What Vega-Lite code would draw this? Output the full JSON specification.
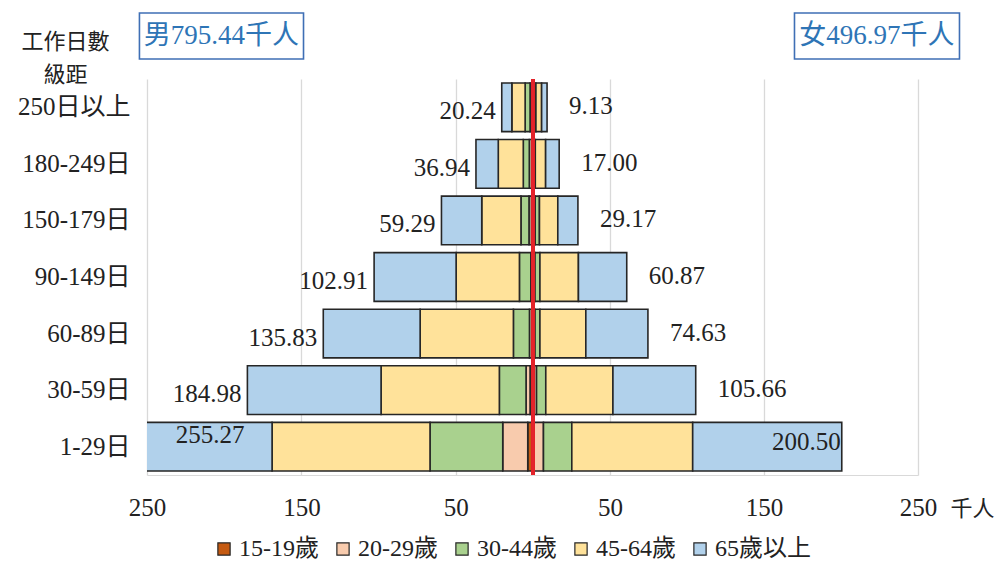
{
  "$schema": "https://vega.github.io/schema/vega-lite/v6.json",
  "background": "white",
  "padding": {"left": 17, "top": 12, "right": 5, "bottom": 5},
  "datasets": {
    "segs": [
      {"row": "250日以上", "sex": "男", "age": "15-19歲", "value": 0.7},
      {"row": "250日以上", "sex": "男", "age": "20-29歲", "value": 1.2},
      {"row": "250日以上", "sex": "男", "age": "30-44歲", "value": 3.2},
      {"row": "250日以上", "sex": "男", "age": "45-64歲", "value": 8.6},
      {"row": "250日以上", "sex": "男", "age": "65歲以上", "value": 6.54},
      {"row": "250日以上", "sex": "女", "age": "15-19歲", "value": 0.1},
      {"row": "250日以上", "sex": "女", "age": "20-29歲", "value": 0.5},
      {"row": "250日以上", "sex": "女", "age": "30-44歲", "value": 1.3},
      {"row": "250日以上", "sex": "女", "age": "45-64歲", "value": 3.7},
      {"row": "250日以上", "sex": "女", "age": "65歲以上", "value": 3.53},
      {"row": "180-249日", "sex": "男", "age": "15-19歲", "value": 0.9},
      {"row": "180-249日", "sex": "男", "age": "20-29歲", "value": 1.5},
      {"row": "180-249日", "sex": "男", "age": "30-44歲", "value": 3.9},
      {"row": "180-249日", "sex": "男", "age": "45-64歲", "value": 16.2},
      {"row": "180-249日", "sex": "男", "age": "65歲以上", "value": 14.44},
      {"row": "180-249日", "sex": "女", "age": "15-19歲", "value": 0.1},
      {"row": "180-249日", "sex": "女", "age": "20-29歲", "value": 0.5},
      {"row": "180-249日", "sex": "女", "age": "30-44歲", "value": 0.9},
      {"row": "180-249日", "sex": "女", "age": "45-64歲", "value": 6.7},
      {"row": "180-249日", "sex": "女", "age": "65歲以上", "value": 8.8},
      {"row": "150-179日", "sex": "男", "age": "15-19歲", "value": 1.0},
      {"row": "150-179日", "sex": "男", "age": "20-29歲", "value": 1.6},
      {"row": "150-179日", "sex": "男", "age": "30-44歲", "value": 5.2},
      {"row": "150-179日", "sex": "男", "age": "45-64歲", "value": 25.4},
      {"row": "150-179日", "sex": "男", "age": "65歲以上", "value": 26.09},
      {"row": "150-179日", "sex": "女", "age": "15-19歲", "value": 0.2},
      {"row": "150-179日", "sex": "女", "age": "20-29歲", "value": 1.2},
      {"row": "150-179日", "sex": "女", "age": "30-44歲", "value": 2.8},
      {"row": "150-179日", "sex": "女", "age": "45-64歲", "value": 11.9},
      {"row": "150-179日", "sex": "女", "age": "65歲以上", "value": 13.07},
      {"row": "90-149日", "sex": "男", "age": "15-19歲", "value": 0.4},
      {"row": "90-149日", "sex": "男", "age": "20-29歲", "value": 1.0},
      {"row": "90-149日", "sex": "男", "age": "30-44歲", "value": 7.4},
      {"row": "90-149日", "sex": "男", "age": "45-64歲", "value": 41.0},
      {"row": "90-149日", "sex": "男", "age": "65歲以上", "value": 53.11},
      {"row": "90-149日", "sex": "女", "age": "15-19歲", "value": 0.2},
      {"row": "90-149日", "sex": "女", "age": "20-29歲", "value": 1.1},
      {"row": "90-149日", "sex": "女", "age": "30-44歲", "value": 3.2},
      {"row": "90-149日", "sex": "女", "age": "45-64歲", "value": 25.0},
      {"row": "90-149日", "sex": "女", "age": "65歲以上", "value": 31.37},
      {"row": "60-89日", "sex": "男", "age": "15-19歲", "value": 0.8},
      {"row": "60-89日", "sex": "男", "age": "20-29歲", "value": 1.5},
      {"row": "60-89日", "sex": "男", "age": "30-44歲", "value": 10.4},
      {"row": "60-89日", "sex": "男", "age": "45-64歲", "value": 60.4},
      {"row": "60-89日", "sex": "男", "age": "65歲以上", "value": 62.73},
      {"row": "60-89日", "sex": "女", "age": "15-19歲", "value": 0.3},
      {"row": "60-89日", "sex": "女", "age": "20-29歲", "value": 1.0},
      {"row": "60-89日", "sex": "女", "age": "30-44歲", "value": 3.2},
      {"row": "60-89日", "sex": "女", "age": "45-64歲", "value": 29.8},
      {"row": "60-89日", "sex": "女", "age": "65歲以上", "value": 40.33},
      {"row": "30-59日", "sex": "男", "age": "15-19歲", "value": 1.9},
      {"row": "30-59日", "sex": "男", "age": "20-29歲", "value": 2.6},
      {"row": "30-59日", "sex": "男", "age": "30-44歲", "value": 17.3},
      {"row": "30-59日", "sex": "男", "age": "45-64歲", "value": 76.6},
      {"row": "30-59日", "sex": "男", "age": "65歲以上", "value": 86.58},
      {"row": "30-59日", "sex": "女", "age": "15-19歲", "value": 0.3},
      {"row": "30-59日", "sex": "女", "age": "20-29歲", "value": 2.0},
      {"row": "30-59日", "sex": "女", "age": "30-44歲", "value": 6.0},
      {"row": "30-59日", "sex": "女", "age": "45-64歲", "value": 43.6},
      {"row": "30-59日", "sex": "女", "age": "65歲以上", "value": 53.76},
      {"row": "1-29日", "sex": "男", "age": "15-19歲", "value": 3.4},
      {"row": "1-29日", "sex": "男", "age": "20-29歲", "value": 16.2},
      {"row": "1-29日", "sex": "男", "age": "30-44歲", "value": 47.1},
      {"row": "1-29日", "sex": "男", "age": "45-64歲", "value": 102.3},
      {"row": "1-29日", "sex": "男", "age": "65歲以上", "value": 86.27},
      {"row": "1-29日", "sex": "女", "age": "15-19歲", "value": 0.5},
      {"row": "1-29日", "sex": "女", "age": "20-29歲", "value": 6.3},
      {"row": "1-29日", "sex": "女", "age": "30-44歲", "value": 18.4},
      {"row": "1-29日", "sex": "女", "age": "45-64歲", "value": 78.5},
      {"row": "1-29日", "sex": "女", "age": "65歲以上", "value": 96.8}
    ],
    "totals": [
      {"row": "250日以上", "sex": "男", "total": 20.24},
      {"row": "180-249日", "sex": "男", "total": 36.94},
      {"row": "150-179日", "sex": "男", "total": 59.29},
      {"row": "90-149日", "sex": "男", "total": 102.91},
      {"row": "60-89日", "sex": "男", "total": 135.83},
      {"row": "30-59日", "sex": "男", "total": 184.98},
      {"row": "1-29日", "sex": "男", "total": 255.27},
      {"row": "250日以上", "sex": "女", "total": 9.13},
      {"row": "180-249日", "sex": "女", "total": 17.0},
      {"row": "150-179日", "sex": "女", "total": 29.17},
      {"row": "90-149日", "sex": "女", "total": 60.87},
      {"row": "60-89日", "sex": "女", "total": 74.63},
      {"row": "30-59日", "sex": "女", "total": 105.66},
      {"row": "1-29日", "sex": "女", "total": 200.5}
    ],
    "heads": [
      {"sex": "男", "label": "男795.44千人"},
      {"sex": "女", "label": "女496.97千人"}
    ]
  },
  "config": {
    "view": {"stroke": null},
    "font": "Liberation Serif, Noto Sans CJK TC",
    "text": {"font": "Liberation Serif, Noto Sans CJK TC"},
    "axis": {
      "labelFont": "Liberation Serif, Noto Sans CJK TC",
      "titleFont": "Liberation Serif, Noto Sans CJK TC",
      "labelFontSize": 25,
      "titleFontSize": 22,
      "titleFontWeight": "normal",
      "labelColor": "#222222",
      "titleColor": "#222222",
      "gridColor": "#d9d9d9",
      "gridWidth": 1.3,
      "domainColor": "#d9d9d9",
      "ticks": false,
      "labelFlush": false
    },
    "legend": {
      "labelFont": "Liberation Serif, Noto Sans CJK TC",
      "labelFontSize": 24,
      "labelColor": "#222222"
    }
  },
  "bounds": "flush",
  "spacing": 20,
  "vconcat": [
    {
      "width": 771,
      "height": 46,
      "data": {"name": "heads"},
      "layer": [
        {
          "transform": [{"filter": "datum.sex === '男'"}],
          "mark": {"type": "rect", "fill": "white", "stroke": "#3f6fb5", "strokeWidth": 1.6},
          "encoding": {
            "x": {"datum": -254.9, "type": "quantitative", "scale": {"domain": [-250, 250], "nice": false, "zero": false}, "axis": null},
            "x2": {"datum": -148.5}
          }
        },
        {
          "transform": [{"filter": "datum.sex === '女'"}],
          "mark": {"type": "rect", "fill": "white", "stroke": "#3f6fb5", "strokeWidth": 1.6},
          "encoding": {
            "x": {"datum": 169.9, "type": "quantitative"},
            "x2": {"datum": 276.9}
          }
        },
        {
          "transform": [{"filter": "datum.sex === '男'"}],
          "mark": {"type": "text", "fontSize": 27, "color": "#2e75b6", "align": "center", "baseline": "middle"},
          "encoding": {
            "x": {"datum": -201.7, "type": "quantitative"},
            "text": {"field": "label"}
          }
        },
        {
          "transform": [{"filter": "datum.sex === '女'"}],
          "mark": {"type": "text", "fontSize": 27, "color": "#2e75b6", "align": "center", "baseline": "middle"},
          "encoding": {
            "x": {"datum": 223.4, "type": "quantitative"},
            "text": {"field": "label"}
          }
        }
      ]
    },
    {
      "bounds": "flush",
      "spacing": 0,
      "resolve": {"scale": {"color": "shared", "x": "independent"}, "legend": {"color": "shared"}},
      "hconcat": [
        {
          "width": 386,
          "height": 396,
          "layer": [
            {
              "data": {"name": "segs"},
              "transform": [{"filter": "datum.sex === '男'"}],
              "mark": {"type": "bar", "clip": true, "stroke": "#262626", "strokeWidth": 1.6},
              "encoding": {
                "y": {
                  "field": "row", "type": "nominal",
                  "sort": ["250日以上", "180-249日", "150-179日", "90-149日", "60-89日", "30-59日", "1-29日"],
                  "scale": {"paddingInner": 0.14, "paddingOuter": 0.07},
                  "axis": {
                    "title": ["工作日數", "級距"],
                    "titleAngle": 0,
                    "titleAlign": "center",
                    "titleBaseline": "top",
                    "titleX": -82,
                    "titleY": -48,
                    "titleLineHeight": 33,
                    "labelPadding": 17,
                    "domain": false,
                    "ticks": false
                  }
                },
                "x": {
                  "field": "value", "type": "quantitative", "stack": "zero",
                  "scale": {"domain": [0, 250], "reverse": true, "nice": false},
                  "axis": {"values": [50, 150, 250], "grid": true, "title": null, "labelPadding": 20, "domain": true}
                },
                "color": {
                  "field": "age", "type": "nominal",
                  "scale": {
                    "domain": ["15-19歲", "20-29歲", "30-44歲", "45-64歲", "65歲以上"],
                    "range": ["#c55a11", "#f8cbad", "#a9d18e", "#ffe29a", "#b1d1eb"]
                  },
                  "legend": {
                    "orient": "none", "direction": "horizontal", "title": null,
                    "legendX": 65, "legendY": 524,
                    "symbolType": "square", "symbolSize": 150,
                    "symbolStrokeColor": "#333333", "symbolStrokeWidth": 1.2,
                    "columnPadding": 12, "labelOffset": 3
                  }
                },
                "order": {"field": "age", "sort": "ascending"}
              }
            },
            {
              "data": {"name": "totals"},
              "transform": [{"filter": "datum.sex === '男' && datum.row !== '1-29日'"}],
              "mark": {"type": "text", "fontSize": 25, "align": "right", "baseline": "middle", "dx": -6, "dy": 4, "color": "#222222"},
              "encoding": {
                "y": {"field": "row", "type": "nominal", "sort": ["250日以上", "180-249日", "150-179日", "90-149日", "60-89日", "30-59日", "1-29日"]},
                "x": {"field": "total", "type": "quantitative"},
                "text": {"field": "total", "type": "quantitative", "format": ".2f"}
              }
            },
            {
              "data": {"name": "totals"},
              "transform": [{"filter": "datum.sex === '男' && datum.row === '1-29日'"}],
              "mark": {"type": "text", "fontSize": 25, "align": "left", "baseline": "middle", "dx": 37, "dy": -12, "color": "#222222"},
              "encoding": {
                "y": {"field": "row", "type": "nominal", "sort": ["250日以上", "180-249日", "150-179日", "90-149日", "60-89日", "30-59日", "1-29日"]},
                "x": {"field": "total", "type": "quantitative"},
                "text": {"field": "total", "type": "quantitative", "format": ".2f"}
              }
            }
          ]
        },
        {
          "width": 385,
          "height": 396,
          "layer": [
            {
              "data": {"name": "segs"},
              "transform": [{"filter": "datum.sex === '女'"}],
              "mark": {"type": "bar", "clip": true, "stroke": "#262626", "strokeWidth": 1.6},
              "encoding": {
                "y": {
                  "field": "row", "type": "nominal",
                  "sort": ["250日以上", "180-249日", "150-179日", "90-149日", "60-89日", "30-59日", "1-29日"],
                  "scale": {"paddingInner": 0.14, "paddingOuter": 0.07},
                  "axis": null
                },
                "x": {
                  "field": "value", "type": "quantitative", "stack": "zero",
                  "scale": {"domain": [0, 250], "nice": false},
                  "axis": {
                    "values": [50, 150, 250], "grid": true, "labelPadding": 20, "domain": true,
                    "title": "千人", "titleAlign": "left", "titleBaseline": "middle",
                    "titleX": 417, "titleY": 33
                  }
                },
                "color": {
                  "field": "age", "type": "nominal",
                  "scale": {
                    "domain": ["15-19歲", "20-29歲", "30-44歲", "45-64歲", "65歲以上"],
                    "range": ["#c55a11", "#f8cbad", "#a9d18e", "#ffe29a", "#b1d1eb"]
                  }
                },
                "order": {"field": "age", "sort": "ascending"}
              }
            },
            {
              "data": {"name": "totals"},
              "mark": {"type": "rule", "color": "#e3242b", "strokeWidth": 2.6},
              "encoding": {
                "x": {"datum": 0, "type": "quantitative"}
              }
            },
            {
              "data": {"name": "totals"},
              "transform": [{"filter": "datum.sex === '女' && datum.row !== '1-29日'"}],
              "mark": {"type": "text", "fontSize": 25, "align": "left", "baseline": "middle", "dx": 22, "dy": -1, "color": "#222222"},
              "encoding": {
                "y": {"field": "row", "type": "nominal", "sort": ["250日以上", "180-249日", "150-179日", "90-149日", "60-89日", "30-59日", "1-29日"]},
                "x": {"field": "total", "type": "quantitative"},
                "text": {"field": "total", "type": "quantitative", "format": ".2f"}
              }
            },
            {
              "data": {"name": "totals"},
              "transform": [{"filter": "datum.sex === '女' && datum.row === '1-29日'"}],
              "mark": {"type": "text", "fontSize": 25, "align": "right", "baseline": "middle", "dx": -1, "dy": -5, "color": "#222222"},
              "encoding": {
                "y": {"field": "row", "type": "nominal", "sort": ["250日以上", "180-249日", "150-179日", "90-149日", "60-89日", "30-59日", "1-29日"]},
                "x": {"field": "total", "type": "quantitative"},
                "text": {"field": "total", "type": "quantitative", "format": ".2f"}
              }
            }
          ]
        }
      ]
    }
  ]
}
